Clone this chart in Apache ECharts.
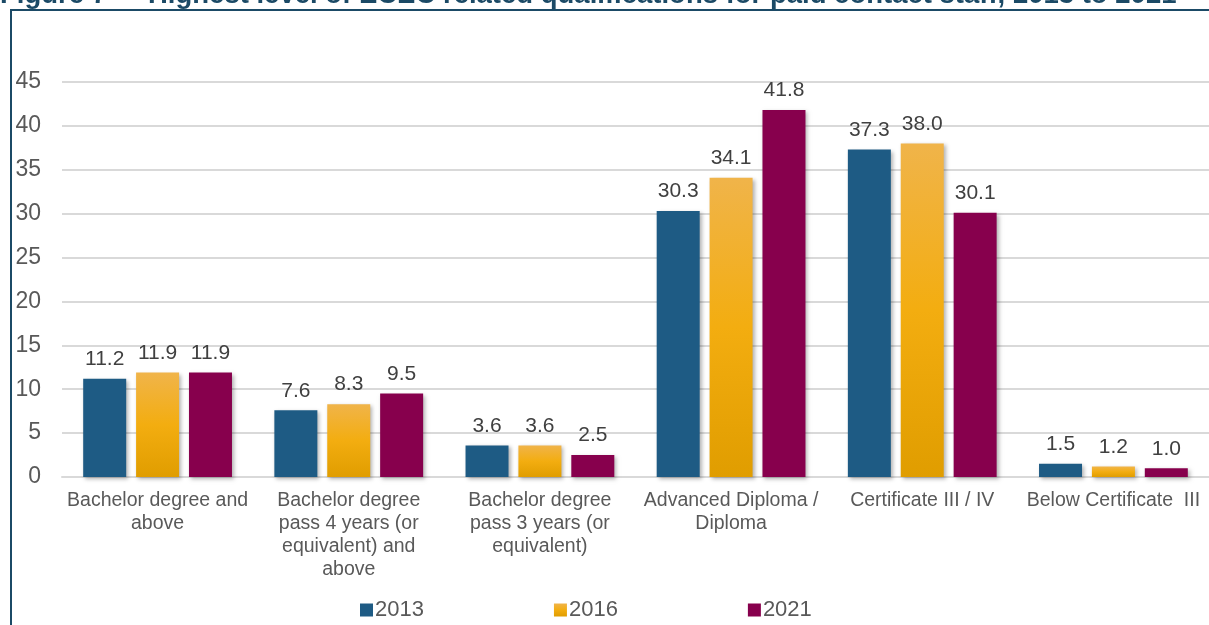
<!DOCTYPE html>
<html>
<head>
<meta charset="utf-8">
<style>
  html, body { margin: 0; padding: 0; background: #fff; }
  #chart { width: 1209px; height: 625px; }
</style>
</head>
<body>
<div id="chart"></div>
<script src="https://cdn.jsdelivr.net/npm/echarts@6/dist/echarts.min.js"></script>
<script>
var categories = [
  'Bachelor degree and\nabove',
  'Bachelor degree\npass 4 years (or\nequivalent) and\nabove',
  'Bachelor degree\npass 3 years (or\nequivalent)',
  'Advanced Diploma /\nDiploma',
  'Certificate III / IV',
  'Below Certificate  III'
];
var years = ['2013', '2016', '2021'];
var values2013 = [11.2, 7.6, 3.6, 30.3, 37.3, 1.5];
var values2016 = [11.9, 8.3, 3.6, 34.1, 38.0, 1.2];
var values2021 = [11.9, 9.5, 2.5, 41.8, 30.1, 1.0];

var font = 'Liberation Sans, Arial, sans-serif';
var navy = '#1B4A66';

var barShadow = {
  shadowBlur: 4,
  shadowColor: 'rgba(0,0,0,0.3)',
  shadowOffsetX: 2,
  shadowOffsetY: 2
};

function series(name, data, color) {
  return {
    name: name,
    type: 'bar',
    data: data,
    barWidth: 43,
    barGap: '23%',
    itemStyle: Object.assign({ color: color }, barShadow),
    label: {
      show: true,
      position: 'top',
      distance: 9,
      fontFamily: font,
      fontSize: 21,
      color: '#404040',
      formatter: function (p) { return p.value.toFixed(1); }
    }
  };
}

var gold = {
  type: 'linear', x: 0, y: 0, x2: 0, y2: 1,
  colorStops: [
    { offset: 0, color: '#F0B44A' },
    { offset: 0.5, color: '#F3AD10' },
    { offset: 1, color: '#E09D00' }
  ]
};

var myChart = echarts.init(document.getElementById('chart'));

var titleFont = 'bold 27.5px Liberation Sans, Arial, sans-serif';

var option = {
  animation: false,
  textStyle: { fontFamily: font },
  graphic: [
    {
      type: 'text',
      left: 0,
      top: -19,
      style: { text: 'Figure 7', font: titleFont, fill: navy }
    },
    {
      type: 'text',
      left: 148,
      top: -19,
      style: {
        text: 'Highest level of ECEC related qualifications for paid contact staff, 2013 to 2021',
        font: titleFont,
        fill: navy
      }
    },
    {
      type: 'line',
      shape: { x1: 10, y1: 10, x2: 1209, y2: 10 },
      style: { stroke: navy, lineWidth: 2 }
    },
    {
      type: 'line',
      shape: { x1: 11, y1: 10, x2: 11, y2: 625 },
      style: { stroke: navy, lineWidth: 2 }
    }
  ],
  legend: {
    data: years,
    left: 355,
    top: 594,
    itemWidth: 13,
    itemHeight: 13,
    itemGap: 130,
    icon: 'rect',
    textStyle: { fontFamily: font, fontSize: 22, color: '#595959', padding: [0, 0, 0, -3] }
  },
  grid: { left: 62, right: 0, top: 82, bottom: 148 },
  xAxis: {
    type: 'category',
    data: categories,
    axisTick: { show: false },
    axisLine: { lineStyle: { color: '#D9D9D9', width: 2 } },
    axisLabel: {
      interval: 0,
      margin: 12,
      fontFamily: font,
      fontSize: 19.5,
      lineHeight: 23,
      color: '#595959'
    }
  },
  yAxis: {
    type: 'value',
    min: 0,
    max: 45,
    interval: 5,
    axisLine: { show: false },
    axisTick: { show: false },
    splitLine: { lineStyle: { color: '#D9D9D9', width: 2 } },
    axisLabel: {
      margin: 21,
      fontFamily: font,
      fontSize: 23,
      color: '#595959'
    }
  },
  series: [
    series('2013', values2013, '#1E5B84'),
    series('2016', values2016, gold),
    series('2021', values2021, '#87004D')
  ]
};

myChart.setOption(option);
</script>
</body>
</html>
